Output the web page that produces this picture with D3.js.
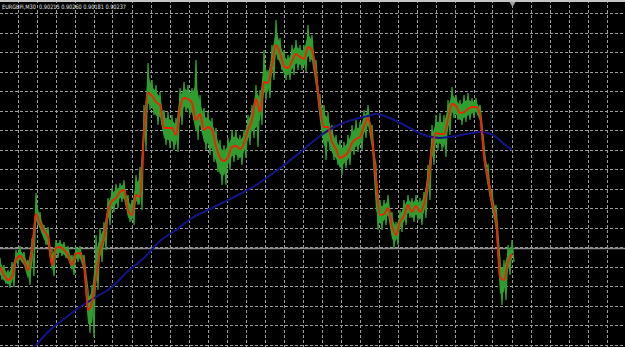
<!DOCTYPE html>
<html>
<head>
<meta charset="utf-8">
<script src="https://cdn.jsdelivr.net/npm/d3@7"></script>
<style>
  html, body { margin: 0; padding: 0; background: #000; overflow: hidden; }
</style>
</head>
<body>
<div id="chart"></div>
<script>
// chart header
var symbol = "EURGBPi,M30";
var lastBar = ["0.90215", "0.90260", "0.90181", "0.90237"]; // open, high, low, close
var bidPrice = 0.90237;

// one sample every 4 bars (M30)
var barStep = 4;
var high = [0.90218,0.90204,0.90194,0.90210,0.90234,0.90242,0.90230,0.90214,0.90258,0.90348,
  0.90310,0.90284,0.90280,0.90234,0.90254,0.90254,0.90250,0.90242,0.90224,0.90240,
  0.90242,0.90224,0.90154,0.90164,0.90264,0.90278,0.90290,0.90338,0.90358,0.90366,
  0.90368,0.90374,0.90344,0.90334,0.90384,0.90400,0.90524,0.90608,0.90574,0.90564,
  0.90550,0.90514,0.90510,0.90504,0.90498,0.90558,0.90570,0.90564,0.90558,0.90614,
  0.90544,0.90518,0.90510,0.90498,0.90478,0.90454,0.90444,0.90458,0.90474,0.90474,
  0.90464,0.90474,0.90504,0.90524,0.90564,0.90554,0.90634,0.90594,0.90644,0.90694,
  0.90658,0.90634,0.90624,0.90644,0.90654,0.90644,0.90644,0.90684,0.90664,0.90614,
  0.90544,0.90524,0.90510,0.90484,0.90464,0.90454,0.90450,0.90464,0.90484,0.90494,
  0.90490,0.90514,0.90524,0.90484,0.90404,0.90334,0.90334,0.90344,0.90310,0.90290,
  0.90314,0.90334,0.90344,0.90338,0.90344,0.90338,0.90350,0.90404,0.90484,0.90504,
  0.90508,0.90504,0.90534,0.90560,0.90544,0.90534,0.90544,0.90548,0.90538,0.90538,
  0.90524,0.90444,0.90404,0.90354,0.90324,0.90214,0.90214,0.90244,0.90254];
var low = [0.90174,0.90166,0.90158,0.90160,0.90202,0.90210,0.90198,0.90164,0.90182,0.90284,
  0.90268,0.90244,0.90230,0.90182,0.90218,0.90222,0.90218,0.90210,0.90184,0.90210,
  0.90210,0.90184,0.90068,0.90060,0.90154,0.90210,0.90234,0.90284,0.90310,0.90318,
  0.90330,0.90324,0.90290,0.90284,0.90324,0.90314,0.90434,0.90514,0.90504,0.90484,
  0.90484,0.90444,0.90438,0.90434,0.90430,0.90484,0.90510,0.90504,0.90494,0.90454,
  0.90470,0.90434,0.90424,0.90410,0.90390,0.90364,0.90364,0.90394,0.90410,0.90414,
  0.90404,0.90418,0.90444,0.90458,0.90440,0.90484,0.90534,0.90538,0.90574,0.90614,
  0.90594,0.90574,0.90574,0.90584,0.90594,0.90594,0.90590,0.90610,0.90598,0.90544,
  0.90474,0.90414,0.90434,0.90414,0.90404,0.90384,0.90398,0.90404,0.90424,0.90430,
  0.90434,0.90458,0.90474,0.90424,0.90274,0.90274,0.90284,0.90294,0.90238,0.90244,
  0.90270,0.90284,0.90298,0.90290,0.90294,0.90284,0.90298,0.90334,0.90404,0.90434,
  0.90434,0.90420,0.90464,0.90498,0.90494,0.90484,0.90490,0.90494,0.90498,0.90504,
  0.90484,0.90398,0.90344,0.90304,0.90264,0.90124,0.90134,0.90184,0.90210];
var maFast = [0.90200,0.90184,0.90174,0.90182,0.90214,0.90222,0.90212,0.90194,0.90234,0.90306,
  0.90288,0.90272,0.90260,0.90204,0.90238,0.90240,0.90234,0.90224,0.90204,0.90226,
  0.90228,0.90204,0.90114,0.90130,0.90178,0.90234,0.90258,0.90310,0.90332,0.90338,
  0.90350,0.90354,0.90314,0.90304,0.90344,0.90340,0.90468,0.90548,0.90542,0.90530,
  0.90524,0.90478,0.90478,0.90478,0.90464,0.90518,0.90538,0.90536,0.90528,0.90494,
  0.90506,0.90474,0.90480,0.90474,0.90442,0.90418,0.90412,0.90420,0.90440,0.90442,
  0.90436,0.90448,0.90474,0.90494,0.90536,0.90510,0.90570,0.90568,0.90604,0.90644,
  0.90628,0.90602,0.90598,0.90612,0.90626,0.90620,0.90616,0.90640,0.90634,0.90584,
  0.90518,0.90480,0.90480,0.90450,0.90436,0.90418,0.90422,0.90430,0.90448,0.90456,
  0.90460,0.90482,0.90498,0.90458,0.90374,0.90304,0.90306,0.90318,0.90282,0.90264,
  0.90290,0.90302,0.90324,0.90310,0.90322,0.90310,0.90326,0.90368,0.90434,0.90468,
  0.90466,0.90466,0.90496,0.90526,0.90522,0.90508,0.90510,0.90516,0.90520,0.90520,
  0.90504,0.90420,0.90378,0.90330,0.90294,0.90180,0.90174,0.90210,0.90226];

// slow moving average, bar index / value
var slowBars = [32,48,64,80,96,112,128,144,160,176,192,208,224,240,256,272,288,304,320,336,
  352,368,376,392,408,424,440,456,472,480,488,496,504,512];
var maSlow = [0.90034,0.90070,0.90096,0.90120,0.90140,0.90160,0.90192,0.90218,0.90252,0.90274,
  0.90298,0.90314,0.90330,0.90346,0.90364,0.90386,0.90410,0.90436,0.90462,0.90482,
  0.90494,0.90502,0.90506,0.90496,0.90480,0.90464,0.90458,0.90462,0.90468,0.90470,
  0.90468,0.90460,0.90446,0.90434];

// grid
var gridTop = 0.90707;
var gridStepPrice = 0.00039;
var gridFirstBar = 18;
var gridStepBars = 19;
var shiftBar = 512;

var width = 625;
var height = 347;

var svg = d3.select("#chart").append("svg")
  .attr("width", width)
  .attr("height", height)
  .style("display", "block")
  .style("background", "#000");

var x = d3.scaleLinear().domain([0, 625]).range([0, width]);
var y = d3.scaleLinear().domain([0.90040, 0.90734]).range([height, 0]);

svg.append("clipPath").attr("id", "clip")
  .append("rect").attr("x", 0).attr("y", 2).attr("width", width).attr("height", height - 3);

// grid lines
var hPrices = d3.range(0, 18).map(function (k) { return gridTop - k * gridStepPrice; });
var vBars = d3.range(gridFirstBar, 625, gridStepBars);

var grid = svg.append("g").attr("class", "grid")
  .attr("stroke", "#9c9c9c")
  .attr("stroke-width", 1)
  .attr("stroke-dasharray", "3,2");

grid.selectAll(".h")
  .data(hPrices)
  .enter().append("line")
  .attr("x1", 0).attr("x2", width)
  .attr("y1", function (d) { return Math.round(y(d)) + 0.5; })
  .attr("y2", function (d) { return Math.round(y(d)) + 0.5; });

grid.selectAll(".v")
  .data(vBars)
  .enter().append("line")
  .attr("y1", 0).attr("y2", height)
  .attr("x1", function (d) { return Math.floor(x(d)) + 0.5; })
  .attr("x2", function (d) { return Math.floor(x(d)) + 0.5; });

// bid line
svg.append("line")
  .attr("x1", 0).attr("x2", width)
  .attr("y1", Math.round(y(bidPrice)) + 0.5)
  .attr("y2", Math.round(y(bidPrice)) + 0.5)
  .attr("stroke", "#8c8c8c")
  .attr("stroke-width", 1.5);

var plot = svg.append("g").attr("clip-path", "url(#clip)");

// price: zig-zag between high and low of each sample
var zig = [];
high.forEach(function (h, i) {
  zig.push([i * barStep, h]);
  zig.push([i * barStep + barStep / 2, low[i]]);
});

var band = d3.area()
  .x(function (d, i) { return x(i * barStep); })
  .y0(function (d, i) { return y(low[i] + (maFast[i] - low[i]) * 0.4); })
  .y1(function (d, i) { return y(high[i] - (high[i] - maFast[i]) * 0.4); });

plot.append("path")
  .datum(high)
  .attr("fill", "#2f9e2f")
  .attr("d", band);

plot.append("path")
  .datum(zig)
  .attr("fill", "none")
  .attr("stroke", "#2f9e2f")
  .attr("stroke-width", 1.3)
  .attr("d", d3.line()
    .x(function (d) { return x(d[0]); })
    .y(function (d) { return y(d[1]); }));

// slow MA
plot.append("path")
  .datum(maSlow)
  .attr("fill", "none")
  .attr("stroke", "#14148a")
  .attr("stroke-width", 2)
  .attr("d", d3.line()
    .curve(d3.curveMonotoneX)
    .x(function (d, i) { return x(slowBars[i]); })
    .y(function (d) { return y(d); }));

// fast MA
plot.append("path")
  .datum(maFast)
  .attr("fill", "none")
  .attr("stroke", "#ff1a00")
  .attr("stroke-width", 1.8)
  .attr("stroke-linejoin", "round")
  .attr("d", d3.line()
    .curve(d3.curveMonotoneX)
    .x(function (d, i) { return x(i * barStep); })
    .y(function (d) { return y(d); }));

// frame top
svg.append("line")
  .attr("x1", 0).attr("x2", width)
  .attr("y1", 1).attr("y2", 1)
  .attr("stroke", "#c4c4c4")
  .attr("stroke-width", 2);

// chart shift marker
var sx = Math.floor(x(shiftBar)) + 0.5;
svg.append("path")
  .attr("d", "M" + (sx - 3) + ",2L" + (sx + 3) + ",2L" + sx + ",7Z")
  .attr("fill", "#a0a0a0");

// header
svg.append("text")
  .attr("x", 2)
  .attr("y", 8.5)
  .attr("fill", "#e6e6e6")
  .style("font-family", "'DejaVu Sans', sans-serif")
  .style("font-size", "6px")
  .style("white-space", "pre")
  .attr("textLength", 124)
  .attr("lengthAdjust", "spacingAndGlyphs")
  .text(symbol + "  " + lastBar.join(" "));
</script>
</body>
</html>
